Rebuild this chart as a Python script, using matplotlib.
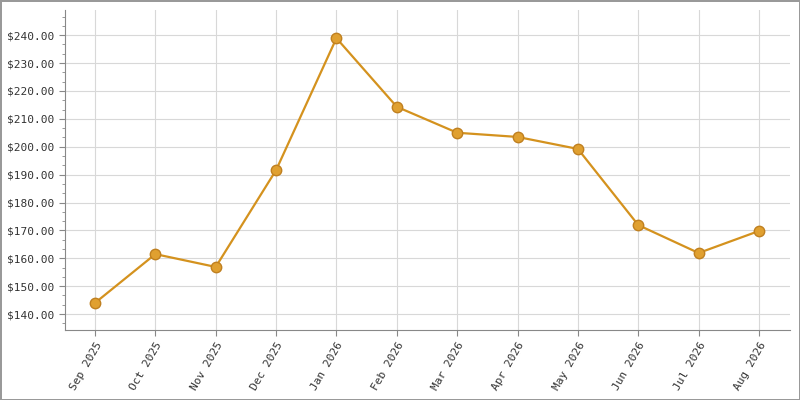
import matplotlib.pyplot as plt
from matplotlib.ticker import MultipleLocator, FuncFormatter

months = ['Sep 2025', 'Oct 2025', 'Nov 2025', 'Dec 2025', 'Jan 2026', 'Feb 2026',
          'Mar 2026', 'Apr 2026', 'May 2026', 'Jun 2026', 'Jul 2026', 'Aug 2026']
prices = [144.0, 161.5, 156.9, 191.6, 238.9, 214.3, 205.0, 203.5, 199.2, 171.9, 161.9, 169.8]

fig = plt.figure(figsize=(8, 4), dpi=100)
fig.patch.set_edgecolor('#999999')
fig.patch.set_linewidth(2)
ax = fig.add_axes([0.081, 0.175, 0.907, 0.80])

x = list(range(len(months)))
ax.plot(x, prices, color='#d4921e', lw=1.6, marker='o', ms=7.5,
        mfc='#e0a030', mec='#c08020', mew=1, zorder=3)

ax.set_xlim(-0.5, 11.52)
ax.set_ylim(134.3, 249)
ax.yaxis.set_major_locator(MultipleLocator(10))
ax.yaxis.set_minor_locator(MultipleLocator(10 / 3))
ax.yaxis.set_major_formatter(FuncFormatter(lambda v, p: f'${v:.2f}'))
ax.set_xticks(x)
ax.set_xticklabels(months, rotation=60, ha='right', rotation_mode='anchor')
ax.grid(True, color='#d8d8d8', lw=0.8)
ax.set_axisbelow(True)
for s in ['top', 'right']:
    ax.spines[s].set_visible(False)
for s in ['left', 'bottom']:
    ax.spines[s].set_color('#888888')
ax.tick_params(colors='#888888', labelcolor='#333333', labelsize=8, length=4)
ax.tick_params(which='minor', colors='#888888', length=2.5)
for lbl in ax.get_xticklabels() + ax.get_yticklabels():
    lbl.set_family('DejaVu Sans Mono')

fig.savefig('out.png', dpi=100, edgecolor=fig.get_edgecolor())
